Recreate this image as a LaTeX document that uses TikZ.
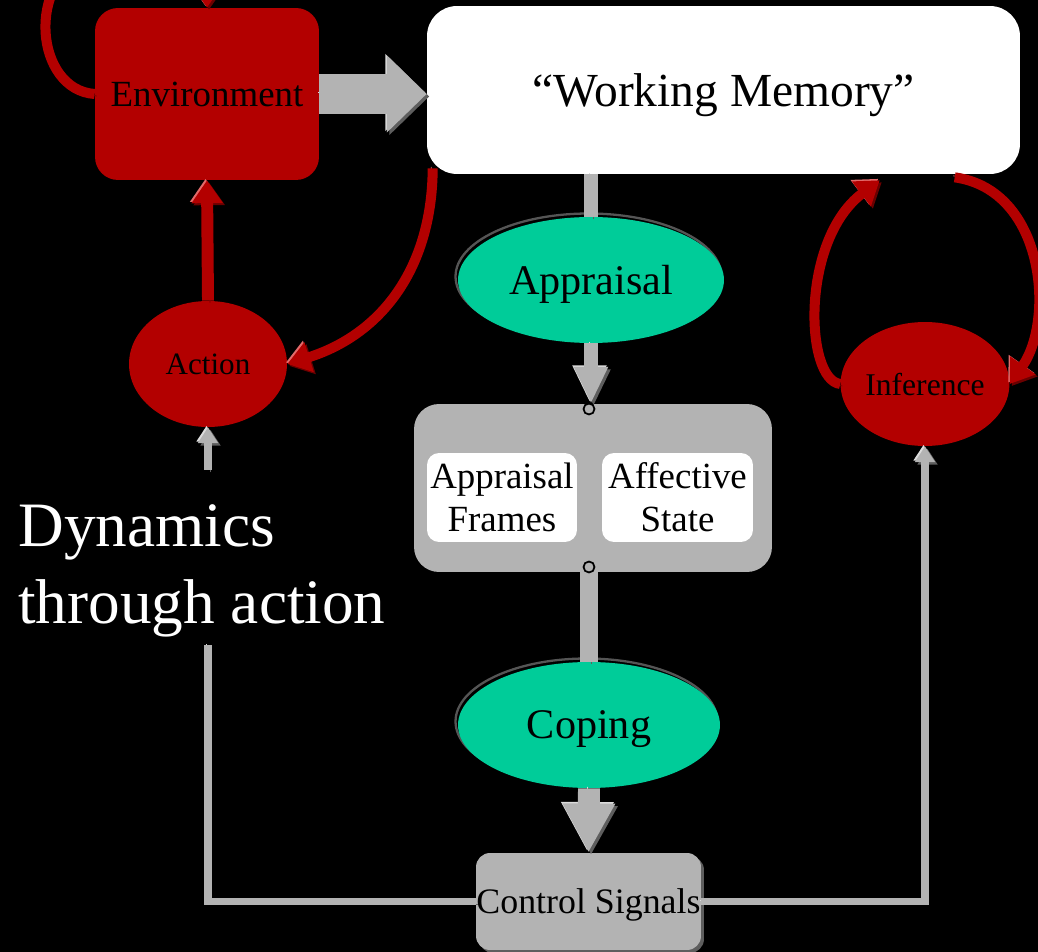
\documentclass[tikz,border=0pt]{standalone}
\usepackage{fontspec}
\setmainfont{Liberation Serif}
\usetikzlibrary{arrows.meta,shapes.geometric,calc}
\definecolor{envred}{HTML}{B30000}
\definecolor{redshadow}{HTML}{6A0000}
\definecolor{redlight}{HTML}{E26A6A}
\definecolor{apgreen}{HTML}{00CC99}
\definecolor{boxgray}{HTML}{B3B3B3}
\definecolor{grayshadow}{HTML}{5E5E5E}
\definecolor{graylight}{HTML}{DCDCDC}
\definecolor{ringgray}{HTML}{555555}
\begin{document}
\begin{tikzpicture}[x=0.02cm,y=-0.02cm,
  redbox/.style={rectangle, rounded corners=0.46cm, fill=envred, inner sep=0, text depth=0pt,
    minimum width=4.48cm, minimum height=3.44cm, font={\fontsize{21}{25}\selectfont}},
  wmbox/.style={rectangle, rounded corners=0.6cm, fill=white, inner sep=0, text depth=0pt,
    minimum width=11.86cm, minimum height=3.36cm, font={\fontsize{27}{32}\selectfont}},
  redell/.style={ellipse, fill=envred, inner sep=0, text depth=0pt},
  greenell/.style={ellipse, fill=apgreen, inner sep=0, text depth=0pt,
    preaction={draw=ringgray, line width=1.3pt, transform canvas={shift={(-0.05cm,0.07cm)}}},
    font={\fontsize{24}{28}\selectfont}},
  graybox/.style={rectangle, rounded corners=0.5cm, fill=boxgray, inner sep=0},
  innerbox/.style={rectangle, rounded corners=0.24cm, fill=white, inner sep=0, align=center,
    minimum width=3.0cm, minimum height=1.78cm, font={\fontsize{21}{24.4}\selectfont}},
  csbox/.style={rectangle, rounded corners=0.28cm, fill=boxgray, inner sep=0, text depth=0pt,
    minimum width=4.5cm, minimum height=1.94cm, font={\fontsize{20.4}{24}\selectfont},
    preaction={fill=grayshadow, transform canvas={shift={(0.06cm,-0.06cm)}}}},
  smallcirc/.style={circle, draw=black, fill=boxgray, line width=1pt, inner sep=0, minimum width=0.17cm, minimum height=0.22cm},
  redarrow/.style={draw=envred, line width=5.7pt, -{Triangle[length=13pt,width=17pt]},
    preaction={draw=redlight, transform canvas={shift={(-0.03cm,0.03cm)}}},
    preaction={draw=redshadow, transform canvas={shift={(0.04cm,-0.04cm)}}}},
  grayarrow/.style={draw=boxgray,
    preaction={draw=graylight, transform canvas={shift={(-0.03cm,0.03cm)}}},
    preaction={draw=grayshadow, transform canvas={shift={(0.05cm,-0.05cm)}}}},
  grayline/.style={grayarrow, line width=4.5pt},
  smalltip/.style={-{Triangle[length=9pt,width=11pt]}}
]
\useasboundingbox (0,0) rectangle (1038,952);
\clip (0,0) rectangle (1038,952);
\fill[black] (0,0) rectangle (1038,952);

% nodes
\node[redbox] (env) at (207,94) {Environment};
\node[wmbox] (wm) at (723.5,90) {“Working Memory”};
\node[redell, minimum width=3.16cm, minimum height=2.52cm, font={\fontsize{17.7}{21}\selectfont}] (act) at (208,364) {Action};
\node[redell, minimum width=3.12cm, minimum height=2.48cm, font={\fontsize{18}{21}\selectfont}] (inf) at (925,384) {Inference};
\node[greenell, minimum width=5.32cm, minimum height=2.52cm] (app) at (591,280) {Appraisal};
\node[graybox, minimum width=7.16cm, minimum height=3.36cm] (box) at (593,488) {};
\node[innerbox] (af) at (502,497.5) {Appraisal\\Frames};
\node[innerbox, minimum width=3.02cm] (as) at (677.5,497.5) {Affective\\State};
\node[greenell, minimum width=5.24cm, minimum height=2.52cm] (cop) at (589,725) {Coping};
\node[csbox] (cs) at (588.5,901.5) {Control Signals};
\node[text=white, align=left, anchor=north west, inner sep=0, font={\fontsize{36}{44}\selectfont}] (dyn) at (18,504) {Dynamics\\through action};

\coordinate (gapbot) at (208,645);
\coordinate (gaptop) at (208,470);

% red connectors
\draw[redarrow] (env.west) .. controls (35,90) and (25,-20) .. (90,-45) .. controls (160,-70) and (207,-50) .. (env.north);
\draw[redarrow, line width=6.8pt] (act.north) -- (env.south);
\draw[redarrow] ($(wm.south west)+(6,-6)$) .. controls (432,270) and (380,335) .. (act.east);
\draw[redarrow] (inf.west) .. controls (805,380) and (800,240) .. ($(wm.south west)+(453,6)$);
\draw[redarrow] ($(wm.south west)+(528,3)$) .. controls (1045,190) and (1055,320) .. (inf.east);

% gray connectors
\draw[grayarrow, line width=22.7pt, -{Triangle[length=22.7pt,width=42.5pt]}] (env.east) -- (env.east -| wm.west);
\draw[grayarrow, line width=8pt] (app.north |- wm.south) -- (app.north);
\draw[grayarrow, line width=8.5pt, -{Triangle[length=21pt,width=18pt]}] (app.south) -- (app.south |- box.north);
\draw[grayarrow, line width=10.2pt] (cop.north |- box.south) -- (cop.north);
\draw[grayarrow, line width=12.5pt, -{Triangle[length=28pt,width=28pt]}] (cop.south) -- (cs.north);
\draw[grayline] (cs.west) -| (gapbot);
\draw[grayline, smalltip] (gaptop) -- (act.south);
\draw[grayline, smalltip] (cs.east) -| (inf.south);

\node[smallcirc] (c1) at (589,409) {};
\node[smallcirc] (c2) at (589,567) {};
\end{tikzpicture}
\end{document}
